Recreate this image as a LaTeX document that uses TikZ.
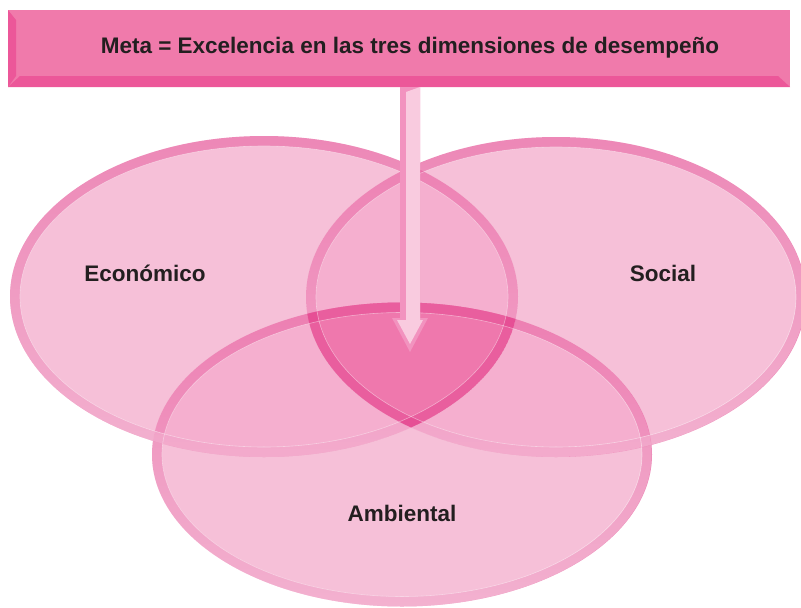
\documentclass[tikz,border=0pt]{standalone}
\usepackage{fontspec}
\setmainfont{Liberation Sans}
\usetikzlibrary{fadings}
\definecolor{pkone}{HTML}{F6C0D8}
\definecolor{pktwo}{HTML}{F5AFCF}
\definecolor{pkthree}{HTML}{EF78AD}
\definecolor{bandc}{HTML}{E23C8A}
\definecolor{face}{HTML}{F07AAB}
\definecolor{bevdark}{HTML}{EC5799}
\definecolor{arrlight}{HTML}{F9CBDF}
\definecolor{arrdark}{HTML}{F293BF}
\definecolor{txt}{HTML}{231F20}
\def\Econ{(264,296.5) ellipse [x radius=254pt, y radius=160.5pt]}
\def\EconIn{(264,296.5) ellipse [x radius=244pt, y radius=150.5pt]}
\def\Soc{(556,297) ellipse [x radius=250pt, y radius=160pt]}
\def\SocIn{(556,297) ellipse [x radius=240pt, y radius=150pt]}
\def\Amb{(402,454.5) ellipse [x radius=250pt, y radius=152pt]}
\def\AmbIn{(402,454.5) ellipse [x radius=240pt, y radius=142pt]}
\tikzset{
  band/.style={fill=bandc, opacity=0.42, even odd rule},
  shine/.style={fill=white, opacity=0.35, even odd rule, path fading=north},
  rim/.style={draw=white, opacity=0.45, line width=0.6pt},
  lbl/.style={text=txt, font=\fontsize{22.5}{26}\selectfont\bfseries, inner sep=0pt},
}
\begin{document}
\begin{tikzpicture}[x=1pt, y=-1pt]
\useasboundingbox (0,0) rectangle (801,608);
% single fills
\fill[pkone] \Econ;
\fill[pkone] \Soc;
\fill[pkone] \Amb;
% pairwise overlaps
\begin{scope}\clip \Econ; \fill[pktwo] \Soc; \fill[pktwo] \Amb; \end{scope}
\begin{scope}\clip \Soc; \fill[pktwo] \Amb; \end{scope}
% bevel bands
\fill[band] \Econ \EconIn;
\fill[band] \Soc \SocIn;
\fill[band] \Amb \AmbIn;
\fill[shine] \Econ \EconIn;
\fill[shine] \Soc \SocIn;
\fill[shine] \Amb \AmbIn;
% triple overlap, redrawn on top with its own bevel
\begin{scope}
\clip \Econ; \clip \Soc; \clip \Amb;
\fill[pkthree] \Amb;
\fill[band] \Econ \EconIn;
\fill[band] \Soc \SocIn;
\fill[band] \Amb \AmbIn;
\end{scope}
\draw[rim] \EconIn;
\draw[rim] \SocIn;
\draw[rim] \AmbIn;
% labels
\node[lbl] (econ) at (145,273) {Económico};
\node[lbl] (soc) at (663,273) {Social};
\node[lbl] (amb) at (402,513) {Ambiental};
% banner
\fill[face] (8,10) rectangle (790,87);
\fill[bevdark] (8,87) -- (790,87) -- (778,76) -- (20,76) -- cycle;
\fill[bevdark] (8,10) -- (16,20) -- (16,76) -- (8,87) -- cycle;
\node[lbl] (meta) at (410,47.5) {Meta = Excelencia en las tres dimensiones de desempeño};
% arrow
\coordinate (astart) at (410,87);
\coordinate (tip) at (410,352);
\fill[arrdark] (400,87) -- (420,87) -- (420,318) -- (428,318) -- (tip) -- (392,318) -- (400,318) -- cycle;
\fill[arrlight] (406,92) -- (420,87) -- (420,320) -- (423,320) -- (410,344) -- (397,320) -- (406,320) -- cycle;
\end{tikzpicture}
\end{document}
